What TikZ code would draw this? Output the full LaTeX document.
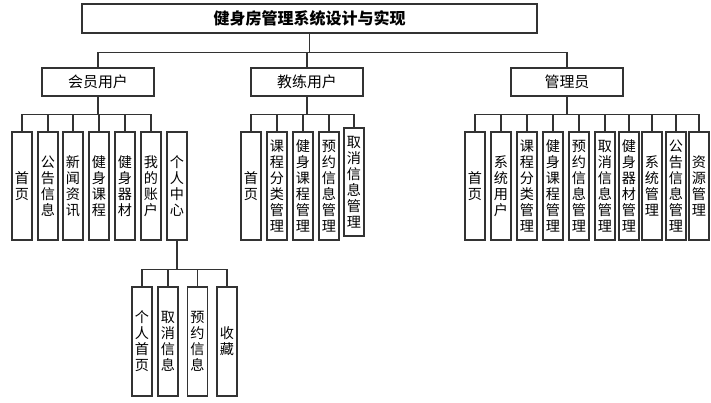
\documentclass[tikz,border=0pt]{standalone}
\usepackage{fontspec}
\setmainfont{Noto Sans CJK SC}
\usetikzlibrary{positioning}
\definecolor{mLine}{HTML}{333333}
\tikzset{
  box/.style={draw=mLine, line width=0.9pt, inner sep=0pt, align=center},
  rootbox/.style={box, minimum width=341.25pt, minimum height=21.75pt, font=\fontsize{12}{14}\selectfont\bfseries},
  rolebox/.style={box, minimum width=84pt, minimum height=21pt, font=\fontsize{11.2}{13}\selectfont},
  leafbox/.style={box, minimum width=15pt, minimum height=81pt, font=\fontsize{10.6}{12}\selectfont},
  link/.style={draw=mLine, line width=0.9pt}
}
\begin{document}
\begin{tikzpicture}[x=0.75pt, y=-0.75pt]
\useasboundingbox (0,0) rectangle (711,403);
% root and roles
\node[rootbox] (root) at (309.5,18.5) {健身房管理系统设计与实现};
\node[rolebox] (mem) at (98,82) {会员用户};
\node[rolebox] (coach) at (307,82) {教练用户};
\node[rolebox] (admin) at (567,82) {管理员};
\foreach \r in {mem,coach,admin} \draw[link] (root.south) -- ++(0,19) -| (\r.north);
% member
\foreach \x/\t [count=\i] in {22/{首\\页}, 48/{公\\告\\信\\息}, 73/{新\\闻\\资\\讯}, 99/{健\\身\\课\\程}, 125/{健\\身\\器\\材}, 151/{我\\的\\账\\户}, 177/{个\\人\\中\\心}}
  \node[leafbox] (m\i) at (\x,186) {\t};
\foreach \i in {1,...,6} \draw[link] (mem.south) -- ++(0,18) -| (m\i.north);
% personal centre
\foreach \x/\t [count=\i] in {142/{个\\人\\首\\页}, 168/{取\\消\\信\\息}, 197.5/{预\\约\\信\\息}, 227/{收\\藏}}
  \node[leafbox, minimum height=81.75pt] (p\i) at (\x,341.5) {\t};
\foreach \i in {1,...,4} \draw[link] (m7.south) -- ++(0,29) -| (p\i.north);
% coach
\foreach \x/\t [count=\i] in {251/{首\\页}, 277/{课\\程\\分\\类\\管\\理}, 303/{健\\身\\课\\程\\管\\理}, 329/{预\\约\\信\\息\\管\\理}}
  \node[leafbox] (c\i) at (\x,186) {\t};
\node[leafbox] (c5) at (354,182) {取\\消\\信\\息\\管\\理};
\foreach \i in {1,...,5} \draw[link] (coach.south) -- ++(0,18) -| (c\i.north);
% admin
\foreach \x/\t [count=\i] in {475/{首\\页}, 501/{系\\统\\用\\户}, 527/{课\\程\\分\\类\\管\\理}, 553/{健\\身\\课\\程\\管\\理}, 579/{预\\约\\信\\息\\管\\理}, 605/{取\\消\\信\\息\\管\\理}, 629/{健\\身\\器\\材\\管\\理}, 652/{系\\统\\管\\理}, 676/{公\\告\\信\\息\\管\\理}, 699/{资\\源\\管\\理}}
  \node[leafbox] (a\i) at (\x,186) {\t};
\foreach \i in {1,...,10} \draw[link] (admin.south) -- ++(0,18) -| (a\i.north);
\end{tikzpicture}
\end{document}
